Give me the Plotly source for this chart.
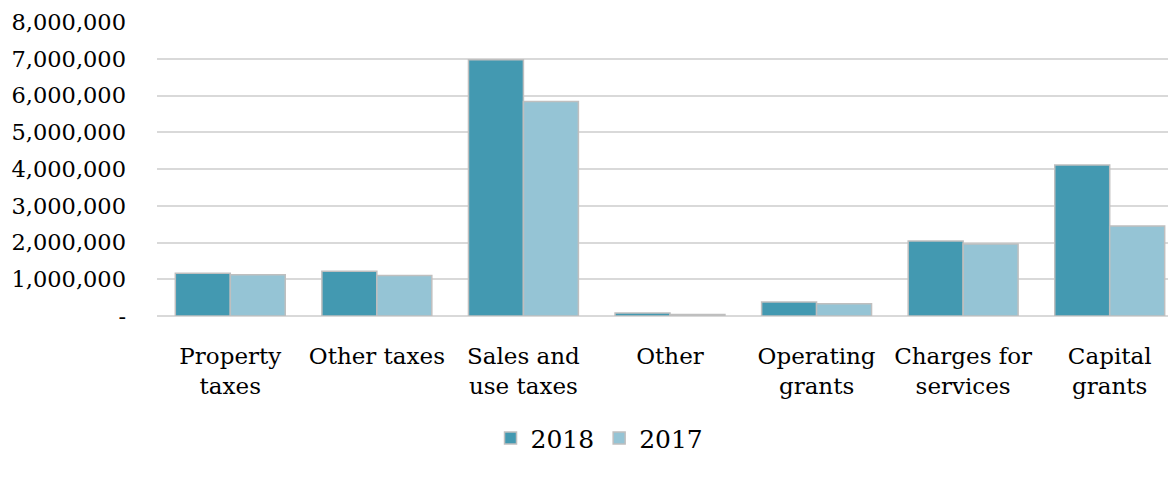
import plotly.graph_objects as go

categories = ["Property<br>taxes", "Other taxes", "Sales and<br>use taxes", "Other",
              "Operating<br>grants", "Charges for<br>services", "Capital<br>grants"]
values_2018 = [1160000, 1220000, 6970000, 80000, 380000, 2040000, 4110000]
values_2017 = [1120000, 1100000, 5840000, 40000, 330000, 1960000, 2450000]
tick_vals = [0, 1000000, 2000000, 3000000, 4000000, 5000000, 6000000, 7000000, 8000000]
tick_text = ["-", "1,000,000", "2,000,000", "3,000,000", "4,000,000",
             "5,000,000", "6,000,000", "7,000,000", "8,000,000"]

FONT = "DejaVu Serif"

fig = go.Figure()
fig.add_trace(go.Bar(x=categories, y=values_2018, name="2018",
                     marker=dict(color="#4399B1", line=dict(color="#BFBFBF", width=1.5))))
fig.add_trace(go.Bar(x=categories, y=values_2017, name="2017",
                     marker=dict(color="#95C4D5", line=dict(color="#BFBFBF", width=1.5))))

fig.update_layout(
    width=1176, height=478,
    margin=dict(l=149, r=1, t=14, b=170, autoexpand=False),
    paper_bgcolor="white", plot_bgcolor="white",
    barmode="group", bargap=0.25, bargroupgap=0,
    font=dict(family=FONT, size=22, color="#000000"),
    legend=dict(orientation="h", x=0.503, xref="container", xanchor="center",
                y=0.10, yref="container", yanchor="middle",
                font=dict(family=FONT, size=25), traceorder="normal"),
    xaxis=dict(tickfont=dict(family=FONT, size=23), showgrid=False, showline=False,
               ticks="", ticklen=0, ticklabelstandoff=24),
    yaxis=dict(range=[0, 8000000], tickvals=tick_vals, ticktext=tick_text,
               showgrid=True, gridcolor="#D9D9D9", gridwidth=1.5, zeroline=True,
               zerolinecolor="#D9D9D9", zerolinewidth=1.5,
               tickfont=dict(family=FONT, size=22.5), ticks="", ticklabelstandoff=30),
)

fig.write_html("out.html")
